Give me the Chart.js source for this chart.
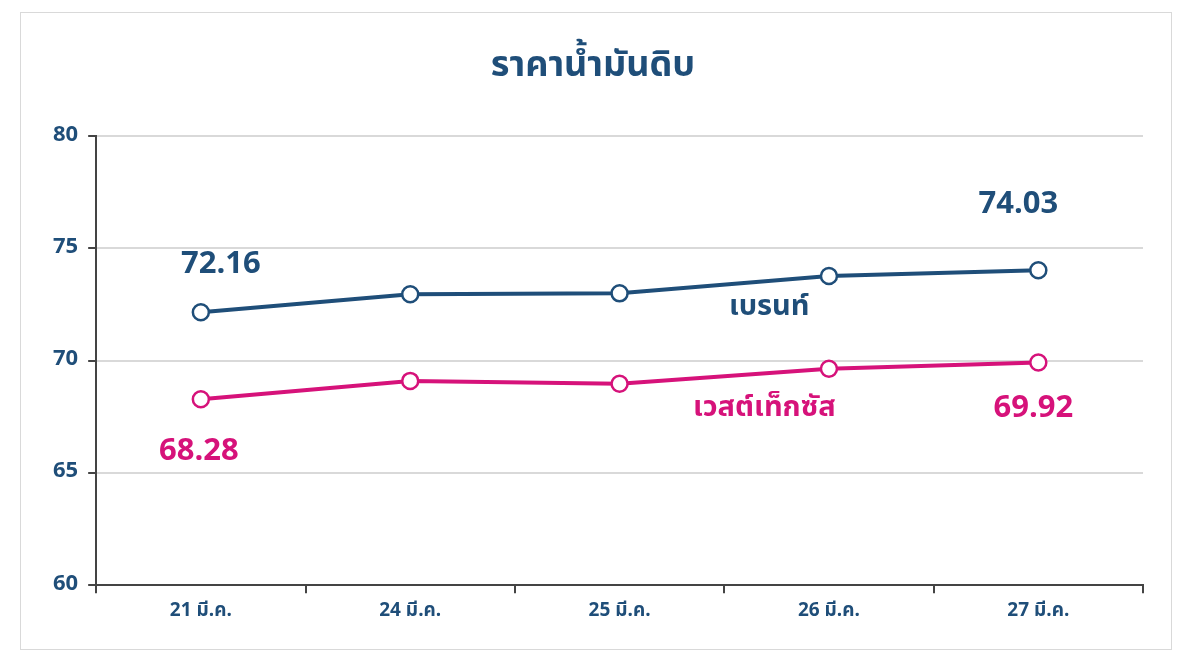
<!DOCTYPE html>
<html><head><meta charset="utf-8">
<script src="https://cdn.jsdelivr.net/npm/chart.js@4/dist/chart.umd.min.js"></script>
<style>
body{margin:0;background:#fff;}
#box{position:absolute;left:20px;top:12px;width:1150px;height:636px;border:1px solid #d9d9d9;}
canvas{display:block;}
</style></head><body>
<div id="box"><canvas id="c" width="1150" height="636"></canvas></div>
<script>
const categories=["21 มี.ค.","24 มี.ค.","25 มี.ค.","26 มี.ค.","27 มี.ค."];
const brent=[72.16,72.96,73.0,73.77,74.03];
const wti=[68.28,69.1,68.97,69.64,69.92];
const yTicks=[60,65,70,75,80];
const FONT="'Noto Sans Thai','Noto Sans','Loma','Tlwg Typist','DejaVu Sans',sans-serif";
const BLUE="#1f4e79", PINK="#d6127a";
const labels={
 id:'labels',
 afterDatasetsDraw(ch){
  const c=ch.ctx,x=ch.scales.x,y=ch.scales.y;
  c.save();c.font="bold 31px "+FONT;c.textAlign="center";c.textBaseline="middle";
  c.fillStyle=BLUE;
  c.fillText(brent[0].toFixed(2),x.getPixelForValue(0)+20,y.getPixelForValue(brent[0])-45);
  c.fillText(brent[4].toFixed(2),x.getPixelForValue(4)-20,y.getPixelForValue(brent[4])-63);
  c.fillStyle=PINK;
  c.fillText(wti[0].toFixed(2),x.getPixelForValue(0)-2,y.getPixelForValue(wti[0])+54);
  c.fillText(wti[4].toFixed(2),x.getPixelForValue(4)-5,y.getPixelForValue(wti[4])+48);
  c.font="bold 29px "+FONT;
  c.fillStyle=BLUE;c.fillText("เบรนท์",(x.getPixelForValue(2)+x.getPixelForValue(3))/2+45,y.getPixelForValue(72.3));
  c.fillStyle=PINK;c.fillText("เวสต์เท็กซัส",(x.getPixelForValue(2)+x.getPixelForValue(3))/2+40,y.getPixelForValue(67.8));
  c.restore();
 }};
new Chart(document.getElementById('c'),{
 type:'line',
 data:{labels:categories,datasets:[
  {data:brent,borderColor:BLUE,borderWidth:4,pointRadius:8,pointBackgroundColor:"#fff",pointBorderColor:BLUE,pointBorderWidth:2.5,tension:0},
  {data:wti,borderColor:PINK,borderWidth:4,pointRadius:8,pointBackgroundColor:"#fff",pointBorderColor:PINK,pointBorderWidth:2.5,tension:0}
 ]},
 options:{responsive:false,animation:false,
  layout:{padding:{left:22,right:28,top:10,bottom:17}},
  plugins:{legend:{display:false},tooltip:{enabled:false},
   title:{display:true,text:"ราคาน้ำมันดิบ",color:BLUE,font:{family:FONT,size:36,weight:'bold'},padding:{top:24,bottom:46}}},
  scales:{
   x:{offset:true,grid:{display:true,offset:true,drawOnChartArea:false,drawTicks:true,tickLength:8,color:"#444",lineWidth:2},
      border:{color:"#444",width:2},
      ticks:{color:BLUE,font:{family:FONT,size:19,weight:'bold'},padding:8}},
   y:{min:60,max:80,afterBuildTicks:a=>{a.ticks=yTicks.map(v=>({value:v}));},
      grid:{color:"#d9d9d9",lineWidth:2,drawTicks:true,tickLength:8,tickColor:"#444"},
      border:{color:"#444",width:2},
      ticks:{color:BLUE,font:{family:FONT,size:22,weight:'bold'},padding:10}}
  }},
 plugins:[labels]
});
</script></body></html>
